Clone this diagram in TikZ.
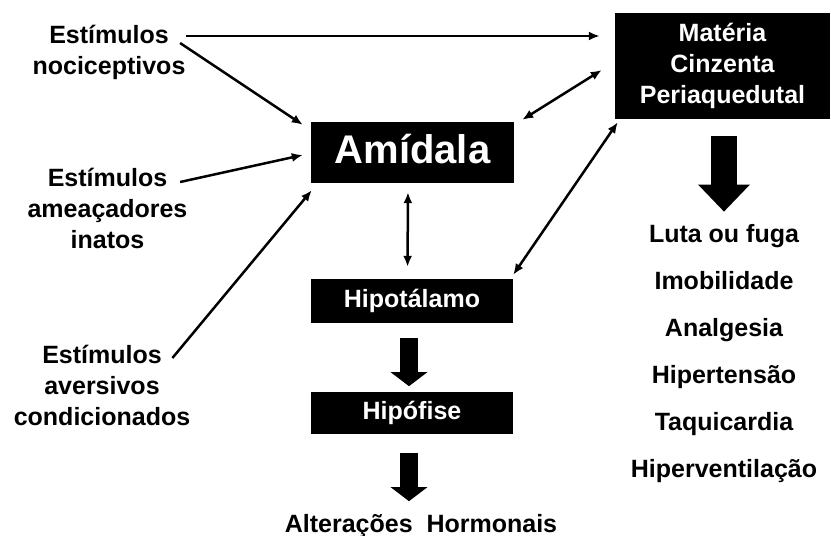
\documentclass[tikz,border=0pt]{standalone}
\usepackage{fontspec}
\setmainfont{Liberation Sans}
\usetikzlibrary{arrows.meta, positioning, calc}

\begin{document}
\begin{tikzpicture}[
    x=1pt, y=-1pt,
    >={Latex[length=11pt,width=9pt]},
    txtlabel/.style={font=\fontsize{25}{31}\selectfont\bfseries, align=center, inner sep=2pt},
    blackbox/.style={rectangle, fill=black, text=white, font=\fontsize{25}{31}\selectfont\bfseries, align=center, inner sep=0pt},
    thinarrow/.style={line width=2.5pt},
    fatarrow/.style={line width=18pt, -{Triangle[length=14pt,width=36pt]}},
    bigarrow/.style={line width=26pt, -{Triangle[length=27pt,width=50pt]}},
]
    \useasboundingbox (0,0) rectangle (831,536);

    % boxes
    \node[blackbox, minimum width=215pt, minimum height=106pt] (pag) at (722.5,66) {Matéria\\Cinzenta\\Periaquedutal};
    \node[blackbox, minimum width=203pt, minimum height=61pt, text depth=8pt, font=\fontsize{40}{48}\selectfont\bfseries] (amig) at (412.5,152.5) {Amídala};
    \node[blackbox, minimum width=202pt, minimum height=44pt] (hypo) at (412,301) {Hipotálamo};
    \node[blackbox, minimum width=202pt, minimum height=42pt, below=69pt of hypo] (hipof) {Hipófise};

    % stimuli
    \node[txtlabel] (noci) at (109,52) {Estímulos\\nociceptivos};
    \node[txtlabel] (amea) at (107.5,208.5) {Estímulos\\ameaçadores\\inatos};
    \node[txtlabel] (aver) at (102,385.5) {Estímulos\\aversivos\\condicionados};

    \node[txtlabel, anchor=base] (horm) at (421,532) {Alterações\ \ Hormonais};

    \foreach \res [count=\i] in {Luta ou fuga, Imobilidade, Analgesia, Hipertensão, Taquicardia, Hiperventilação}
        \node[txtlabel, anchor=base] (res\i) at (724,195+47*\i) {\res};

    \coordinate (nociout) at ([shift={(-2,-16)}]noci.east);
    \draw[->, thinarrow, shorten >=15pt] (nociout) -- (nociout -| pag.west);
    \draw[->, thinarrow] ([shift={(-7.5,-9)}]noci.east) -- ([shift={(-8,3)}]amig.north west);
    \draw[->, thinarrow] ([shift={(-9.5,-26.5)}]amea.east) -- ([shift={(-8,2.5)}]amig.west);
    \draw[->, thinarrow] ([shift={(-20,-27.5)}]aver.east) -- ([shift={(1,7)}]amig.south west);

    \draw[<->, thinarrow] ([shift={(8,-2)}]amig.north east) -- ([shift={(-13,4)}]pag.west);
    \draw[<->, thinarrow, shorten <=9pt, shorten >=12pt] ([xshift=-4.5pt]amig.south) -- ([xshift=-4.5pt]hypo.north);
    \draw[<->, thinarrow] ([shift={(0,-4)}]hypo.north east) -- ([shift={(3,3)}]pag.south west);

    \draw[fatarrow, shorten <=15pt, shorten >=6pt] ([xshift=-3pt]hypo.south) -- ([xshift=-3pt]hipof.north);
    \draw[fatarrow, shorten <=18pt, shorten >=10.5pt] ([xshift=-3pt]hipof.south) -- ([xshift=-3pt]hipof.south |- horm.north);
    \draw[bigarrow, shorten <=17pt, shorten >=10pt] ([xshift=1.5pt]pag.south) -- ([xshift=1.5pt]pag.south |- res1.north);
\end{tikzpicture}
\end{document}
